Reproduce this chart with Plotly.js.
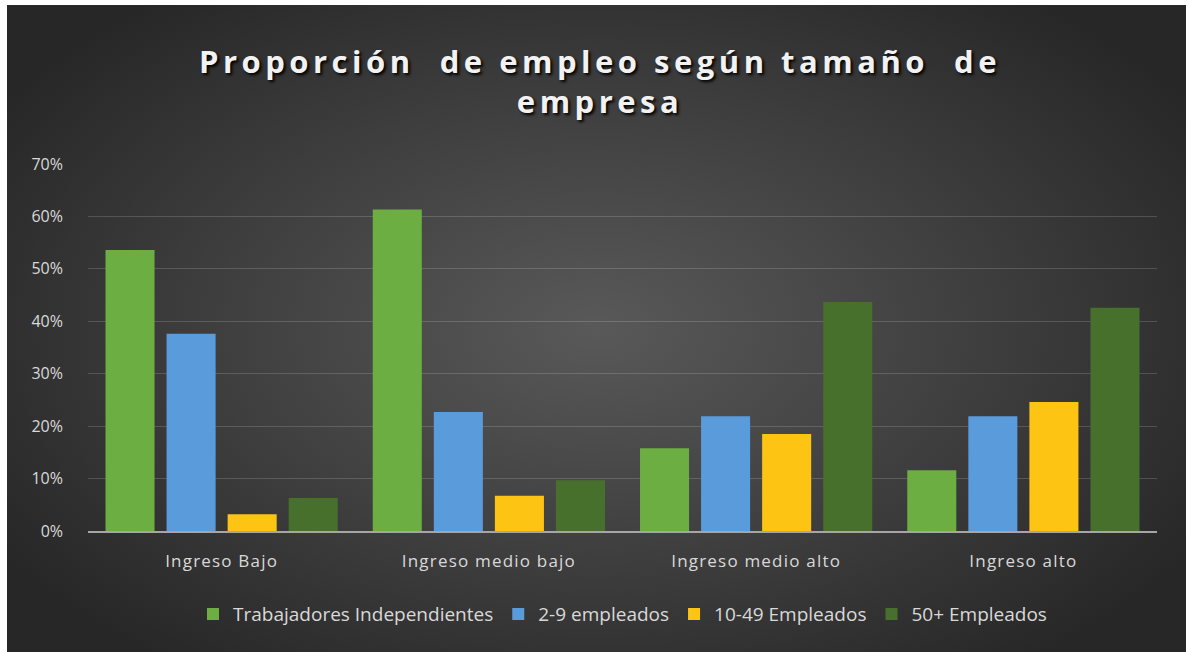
<!DOCTYPE html>
<html>
<head>
<meta charset="utf-8">
<script src="https://cdn.plot.ly/plotly-3.0.1.min.js"></script>
<style>
  html, body { margin: 0; padding: 0; background: #ffffff; }
  #chart {
    position: absolute; left: 7px; top: 5px; width: 1179px; height: 647px;
    background: radial-gradient(ellipse 60% 65% at 50% 50%, #595959 0%, #3e3e3e 55%, #272727 100%);
  }
  #chart .gtitle { letter-spacing: 4.5px; }
  #chart .xtick text { letter-spacing: 1.2px; }
</style>
</head>
<body>
<div id="chart"></div>
<script>
const categories = ["Ingreso Bajo", "Ingreso medio bajo", "Ingreso medio alto", "Ingreso alto"];
const seriesNames = ["Trabajadores Independientes", "2-9 empleados", "10-49 Empleados", "50+ Empleados"];
const independientes = [0.536, 0.613, 0.158, 0.116];
const empleados2a9 = [0.376, 0.227, 0.219, 0.219];
const empleados10a49 = [0.032, 0.067, 0.185, 0.246];
const empleados50mas = [0.063, 0.097, 0.437, 0.426];
const tickVals = [0, 0.1, 0.2, 0.3, 0.4, 0.5, 0.6, 0.7];
const tickText = ["0%", "10%", "20%", "30%", "40%", "50%", "60%", "70%"];
const colors = ["#6cae41", "#5a9bdc", "#fec414", "#47702d"];

const values = [independientes, empleados2a9, empleados10a49, empleados50mas];
const traces = values.map((v, i) => ({
  type: "bar",
  name: seriesNames[i],
  x: categories,
  y: v,
  marker: { color: colors[i], line: { width: 0 } },
  hoverinfo: "x+y+name"
}));

const layout = {
  width: 1179,
  height: 647,
  paper_bgcolor: "rgba(0,0,0,0)",
  plot_bgcolor: "rgba(0,0,0,0)",
  margin: { l: 81, r: 29, t: 159, b: 121 },
  title: {
    text: "Proporción  de empleo según tamaño  de<br>empresa",
    font: { family: "Open Sans, sans-serif", size: 31, color: "#f2f2f2", weight: 700, shadow: "2px 2px 3px #000000" },
    x: 0.503, xanchor: "center", yref: "container", y: 0.895, yanchor: "middle"
  },
  barmode: "group",
  bargap: 0.086,
  bargroupgap: 0.197,
  xaxis: {
    showgrid: false,
    showline: true, linecolor: "#a6a6a6", linewidth: 2,
    ticks: "",
    tickfont: { family: "Open Sans, sans-serif", size: 17, color: "#d9d9d9" },
    ticklabelstandoff: 14
  },
  yaxis: {
    range: [0, 0.7],
    tickvals: tickVals,
    ticktext: tickText,
    showgrid: true, gridcolor: "rgba(255,255,255,0.16)", gridwidth: 1,
    zeroline: false, showline: false,
    tickfont: { family: "Open Sans, sans-serif", size: 16, color: "#d9d9d9" },
    ticklabelstandoff: 24
  },
  showlegend: true,
  legend: {
    orientation: "h",
    x: 0.5, xanchor: "center",
    y: -0.175, yanchor: "top",
    font: { family: "Open Sans, sans-serif", size: 19, color: "#d9d9d9" },
    bgcolor: "rgba(0,0,0,0)",
    itemwidth: 30,
    traceorder: "normal"
  }
};

Plotly.newPlot("chart", traces, layout, { displayModeBar: false, staticPlot: true });
</script>
</body>
</html>
